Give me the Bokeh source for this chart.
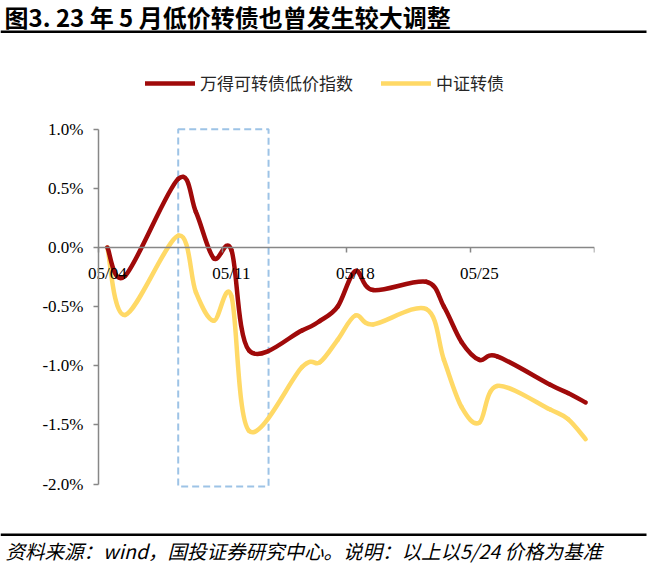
import numpy as np
from bokeh.plotting import figure
from bokeh.layouts import column
from bokeh.models import (Range1d, LinearAxis, FixedTicker, PrintfTickFormatter,
                          Legend, LegendItem, Label, ColumnDataSource)
from bokeh.embed import file_html
from bokeh.resources import INLINE

# ---------------- data ----------------
may_days = [4, 5, 8, 9, 10, 11, 12, 15, 16, 17, 18, 19, 22, 23, 24, 25, 26, 29, 30, 31]
wind_low_price = [0.00, -0.24, 0.58, 0.30, -0.09, -0.02, -0.87, -0.70, -0.62, -0.50,
                  -0.20, -0.36, -0.29, -0.50, -0.80, -0.95, -0.92, -1.16, -1.23, -1.31]
csi_cb = [0.00, -0.57, 0.10, -0.38, -0.62, -0.41, -1.55, -1.01, -0.97, -0.78,
          -0.575, -0.65, -0.52, -0.95, -1.35, -1.48, -1.17, -1.37, -1.45, -1.62]
series_names = ["万得可转债低价指数", "中证转债"]
tick_days = [4, 11, 18, 25]
tick_labels = ["05/04", "05/11", "05/18", "05/25"]
y_ticks = [-2.0, -1.5, -1.0, -0.5, 0.0, 0.5, 1.0]
highlight_days = (8, 13.1)
highlight_vals = (-2.02, 1.0)

title_text = "图3. 23 年 5 月低价转债也曾发生较大调整"
source_text = "资料来源：wind，国投证券研究中心。说明：以上以5/24 价格为基准"

RED = "#A00A0A"
YELLOW = "#FFD966"
AXIS = "#878787"
W = 651


def smooth_segments(xs, ys):
    """Cubic Bezier pieces (Catmull-Rom style) through the data points."""
    xs = np.asarray(xs, float)
    ys = np.asarray(ys, float)
    n = len(xs)
    xp = np.concatenate([[xs[0]], xs, [xs[-1]]])
    yp = np.concatenate([[ys[0]], ys, [ys[-1]]])
    return dict(
        x0=xs[:-1], y0=ys[:-1], x1=xs[1:], y1=ys[1:],
        cx0=xs[:-1] + (xp[2:n + 1] - xp[0:n - 1]) / 6.0,
        cy0=ys[:-1] + (yp[2:n + 1] - yp[0:n - 1]) / 6.0,
        cx1=xs[1:] - (xp[3:n + 2] - xp[1:n]) / 6.0,
        cy1=ys[1:] - (yp[3:n + 2] - yp[1:n]) / 6.0,
    )


def blank_fig(height, y_top, y_bottom):
    f = figure(width=W, height=height, x_range=Range1d(0, W),
               y_range=Range1d(y_bottom, y_top),
               x_axis_type=None, y_axis_type=None,
               output_backend="svg", toolbar_location=None, min_border=0,
               frame_align=False)
    f.outline_line_color = None
    f.grid.visible = False
    return f


# ---------------- title strip ----------------
pt = blank_fig(36, 0, 36)
pt.add_layout(Label(x=4, y=16, text=title_text, text_font="Noto Sans CJK SC",
                    text_font_style="bold", text_font_size="24px",
                    text_color="#000000", text_baseline="middle"))
pt.quad(left=[0], right=[646], top=[30], bottom=[32.5], fill_color="black", line_alpha=0)

# ---------------- main chart ----------------
day_px = 496 / 28.0                      # pixel width of one day on the axis
x_start = tick_days[0] - 0.5 - 13 / day_px
p = figure(width=W, height=492,
           x_range=Range1d(x_start, tick_days[-1] + 6.5),
           y_range=Range1d(-2.0541, 1.6653),
           x_axis_type=None, y_axis_type=None,
           output_backend="svg", toolbar_location=None,
           min_border_left=85, min_border_right=57,
           min_border_top=14, min_border_bottom=38,
           frame_align=False)
p.outline_line_color = None
p.grid.visible = False

# y labels (normal axis at the frame edge, only labels shown)
ylab = LinearAxis(ticker=FixedTicker(ticks=y_ticks),
                  formatter=PrintfTickFormatter(format="%.1f%%"))
ylab.axis_line_alpha = 0
ylab.major_tick_out = 0
ylab.major_tick_in = 0
ylab.minor_tick_out = 0
ylab.minor_tick_in = 0
ylab.major_label_standoff = 2
ylab.major_label_text_font = "Liberation Serif"
ylab.major_label_text_font_size = "17px"
ylab.major_label_text_color = "#000000"
p.add_layout(ylab, "left")

# y axis line and ticks at the first day boundary
week_bounds = [d - 0.5 for d in tick_days] + [tick_days[-1] + 6.5]
yline = LinearAxis(ticker=FixedTicker(ticks=y_ticks), fixed_location=week_bounds[0],
                   bounds=(y_ticks[0], y_ticks[-1]))
yline.axis_line_color = AXIS
yline.axis_line_width = 1.5
yline.major_tick_line_color = AXIS
yline.major_tick_line_width = 1.5
yline.major_tick_out = 5
yline.major_tick_in = 0
yline.minor_tick_out = 0
yline.minor_tick_in = 0
yline.major_label_text_alpha = 0
yline.major_label_text_font_size = "1px"
p.add_layout(yline, "left")

xax = LinearAxis(ticker=FixedTicker(ticks=tick_days, minor_ticks=week_bounds),
                 fixed_location=0, bounds=(week_bounds[0], week_bounds[-1]),
                 major_label_overrides={d: t for d, t in zip(tick_days, tick_labels)})
xax.axis_line_color = AXIS
xax.axis_line_width = 1.5
xax.major_tick_out = 0
xax.major_tick_in = 0
xax.minor_tick_line_color = AXIS
xax.minor_tick_line_width = 1.5
xax.minor_tick_out = 5
xax.minor_tick_in = 0
xax.major_label_standoff = 11
xax.major_label_text_font = "Liberation Serif"
xax.major_label_text_font_size = "17px"
xax.major_label_text_color = "#000000"
p.add_layout(xax, "below")

# highlight box
p.quad(left=[highlight_days[0]], right=[highlight_days[1]],
       bottom=[highlight_vals[0]], top=[highlight_vals[1]],
       fill_alpha=0, line_color="#9DC3E6", line_width=2, line_dash="7 4")

# series
r_yellow = p.bezier(source=ColumnDataSource(smooth_segments(may_days, csi_cb)),
                    x0="x0", y0="y0", x1="x1", y1="y1",
                    cx0="cx0", cy0="cy0", cx1="cx1", cy1="cy1",
                    line_color=YELLOW, line_width=4.5, line_cap="round")
r_red = p.bezier(source=ColumnDataSource(smooth_segments(may_days, wind_low_price)),
                 x0="x0", y0="y0", x1="x1", y1="y1",
                 cx0="cx0", cy0="cy0", cx1="cx1", cy1="cy1",
                 line_color=RED, line_width=4.5, line_cap="round")

legend = Legend(items=[LegendItem(label=series_names[0], renderers=[r_red]),
                       LegendItem(label=series_names[1], renderers=[r_yellow])],
                location=(60, 395), orientation="horizontal")
legend.glyph_width = 50
legend.glyph_height = 20
legend.label_height = 20
legend.label_standoff = 5
legend.spacing = 28
legend.padding = 0
legend.margin = 0
legend.border_line_alpha = 0
legend.background_fill_alpha = 0
legend.label_text_font = "Noto Sans CJK SC"
legend.label_text_font_size = "17px"
legend.label_text_color = "#262626"
p.add_layout(legend)

# ---------------- source strip ----------------
ps = blank_fig(41, 528, 569)
ps.quad(left=[0], right=[646], top=[533], bottom=[535.5], fill_color="black", line_alpha=0)
ps.add_layout(Label(x=5, y=550, text=source_text, text_font="Noto Sans CJK SC",
                    text_font_style="italic", text_font_size="19.5px",
                    text_color="#000000", text_baseline="middle"))

layout = column(pt, p, ps, spacing=0)
open("out.html", "w").write(file_html(layout, INLINE))
